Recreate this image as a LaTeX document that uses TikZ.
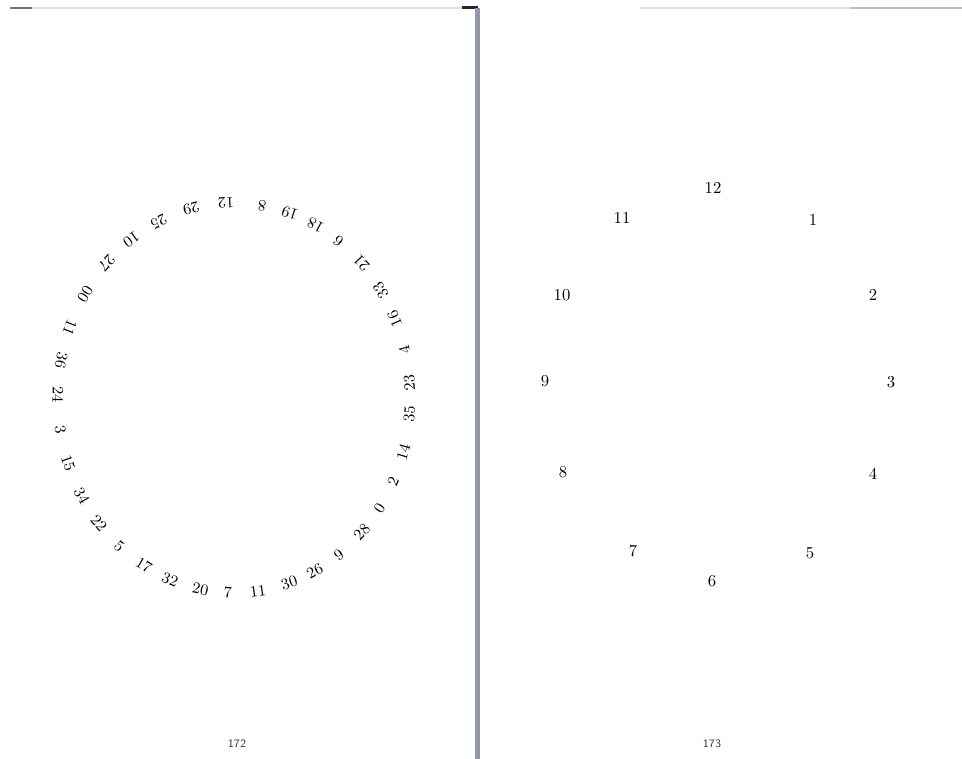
\documentclass[tikz,border=0pt]{standalone}
\usetikzlibrary{positioning}

\definecolor{gutterblue}{RGB}{146,152,170}

\begin{document}
\begin{tikzpicture}[
		x=0.02cm, y=-0.02cm,
		wheelnum/.style={inner sep=0pt, font=\fontsize{9}{10}\selectfont},
		clocknum/.style={inner sep=0pt, font=\fontsize{9.5}{11}\selectfont},
		folio/.style={inner sep=0pt, font=\sffamily\fontsize{6.5}{7}\selectfont, text=black!75},
		pageedge/.style={line width=0.6pt, black!12}
		]
		\useasboundingbox (0,0) rectangle (962,759);

		% page edges and gutter
		\draw[pageedge] (10,8) -- (470,8);
		\draw[pageedge, black!55] (10,8) -- (32,8);
		\draw[pageedge] (640,8) -- (962,8);
		\draw[pageedge, black!25] (850,8) -- (962,8);
		\fill[black!85] (462,6.5) rectangle (478,9.5);
		\fill[gutterblue] (475,8) rectangle (479.5,759);

		% left page: the wheel
		\begin{scope}[shift={(234,398)}]
			\foreach \n/\t [count=\i] in {12/92.6, 8/80.8, 19/71.5, 18/62.4, 6/53.6, 21/43.6,
					33/33.5, 16/24.0, 4/14.3, 23/4.4, 35/-4.8, 14/-16.0, 2/-25.3, 0/-34.3,
					28/-43.4, 9/-53.4, 26/-62.7, 30/-71.7, 11/-82.2, 7/-92.0, 20/-101.0,
					32/-111.3, 17/-120.8, 5/-130.7, 22/-140.1, 34/-149.9, 15/-160.5,
					3/-170.6, 24/-180.9, 36/-191.2, 11/-201.2, 00/-212.2, 27/-223.8,
					10/-234.3, 25/-244.7, 29/-255.9}
				\node[wheelnum, rotate=\t+90] (w\i) at (\t:176 and -195) {\n};
		\end{scope}

		% right page: the clock
		\foreach \h/\x/\y in {12/713/188, 1/813/220, 2/873/295, 3/891/382, 4/873/474,
				5/810/553, 6/712/581, 7/633/551, 8/563/472, 9/545/381, 10/562/295, 11/622/218}
			\node[clocknum] (h\h) at (\x,\y) {\h};

		% folios
		\node[folio] (p172) at (237,744) {172};
		\node[folio] (p173) at (712,744) {173};
	\end{tikzpicture}
\end{document}
